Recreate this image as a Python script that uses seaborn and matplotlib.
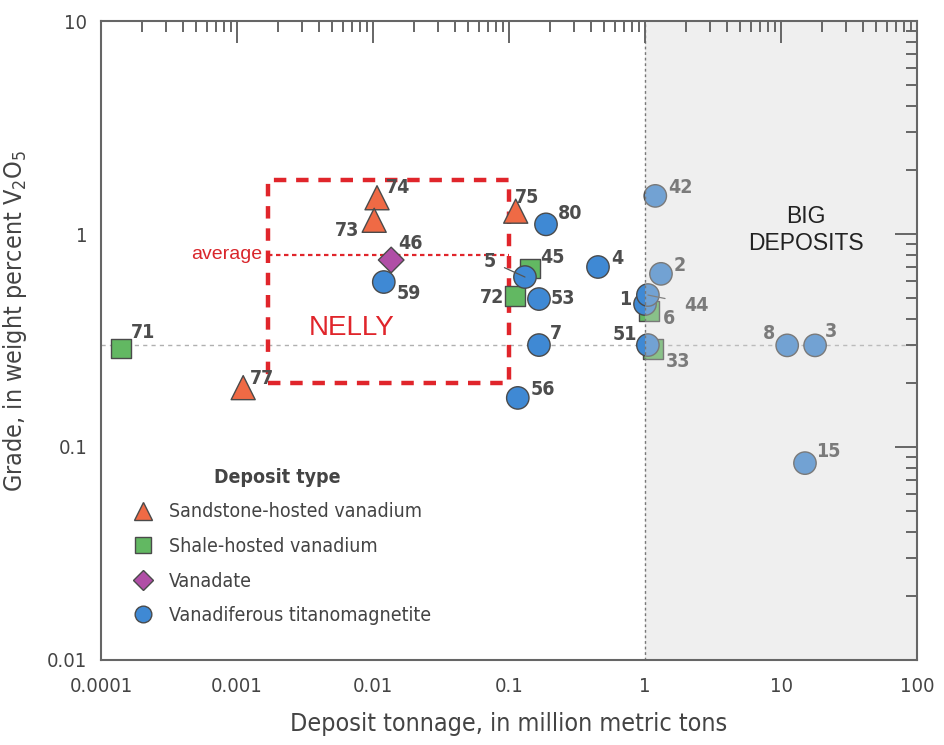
import matplotlib
matplotlib.use("Agg")
import matplotlib.pyplot as plt
from matplotlib.patches import Rectangle
import pandas as pd
import seaborn as sns

# deposit number, tonnage (million t), grade (% V2O5), type
ids_shale = ["71", "45", "72", "6", "33"]
ton_shale = [0.00014, 0.143, 0.111, 1.07, 1.15]
grade_shale = [0.29, 0.69, 0.51, 0.435, 0.289]

ids_sand = ["74", "73", "75", "77"]
ton_sand = [0.0107, 0.0102, 0.112, 0.00111]
grade_sand = [1.48, 1.16, 1.28, 0.19]

ids_vanadate = ["46"]
ton_vanadate = [0.0136]
grade_vanadate = [0.755]

ids_vtm = ["59", "80", "5", "53", "7", "56", "4", "42", "2", "1", "44", "51", "8", "3", "15"]
ton_vtm = [0.012, 0.187, 0.131, 0.166, 0.166, 0.116, 0.451, 1.19, 1.31, 1.0, 1.05, 1.05, 11.1, 17.8, 15.0]
grade_vtm = [0.595, 1.11, 0.628, 0.495, 0.301, 0.17, 0.70, 1.51, 0.65, 0.469, 0.517, 0.301, 0.30, 0.30, 0.084]

type_names = ["Sandstone-hosted vanadium", "Shale-hosted vanadium", "Vanadate",
              "Vanadiferous titanomagnetite"]

nelly_ton = (0.0017, 0.1)
nelly_grade = (0.2, 1.8)
nelly_avg = 0.8

rows = []
for ids, ton, gr, t in [(ids_shale, ton_shale, grade_shale, type_names[1]),
                        (ids_sand, ton_sand, grade_sand, type_names[0]),
                        (ids_vanadate, ton_vanadate, grade_vanadate, type_names[2]),
                        (ids_vtm, ton_vtm, grade_vtm, type_names[3])]:
    for i, x, y in zip(ids, ton, gr):
        rows.append({"id": i, "tonnage": x, "grade": y, "type": t})
df = pd.DataFrame(rows)

# label offsets in pixels (dx, dy)
offsets = {"74": (21, 10), "73": (-27, -10), "75": (11, 14), "77": (19, 9),
           "71": (22, 16), "45": (22, 11), "72": (-23, -1), "6": (20, -7),
           "33": (25, -13), "46": (19, 17), "59": (25, -11), "80": (24, 11),
           "5": (-35, 16), "53": (24, 1), "7": (17, 12), "56": (25, 8),
           "4": (19, 8), "42": (25, 8), "2": (19, 8), "44": (49, -10),
           "1": (-20, 5), "51": (-23, 11), "8": (-18, 12), "3": (16, 14),
           "15": (23, 12)}

sns.set_theme(style="white")
plain = ["Liberation Sans", "DejaVu Sans"]
plt.rcParams["font.family"] = ["DejaVu Sans"]
plt.rcParams["font.stretch"] = "condensed"

fig = plt.figure(figsize=(9.45, 7.45), dpi=100)
ax = fig.add_axes([0.1069, 0.1141, 0.8635, 0.8577])

palette = {type_names[0]: "#ef6a45", type_names[1]: "#62b862",
           type_names[2]: "#b04ea6", type_names[3]: "#3f89d4"}
markers = {type_names[0]: "^", type_names[1]: "s",
           type_names[2]: "D", type_names[3]: "o"}
sizes = {type_names[0]: 300, type_names[1]: 200,
         type_names[2]: 170, type_names[3]: 260}

sns.scatterplot(data=df, x="tonnage", y="grade", hue="type", style="type",
                hue_order=type_names, style_order=type_names,
                palette=palette, markers=markers, size="type", sizes=sizes,
                size_order=type_names,
                edgecolor="#4a4a4a", linewidth=1.0, zorder=3, ax=ax)

ax.set_xscale("log")
ax.set_yscale("log")
ax.set_xlim(0.0001, 100)
ax.set_ylim(0.01, 10)

for _, r in df.iterrows():
    dx, dy = offsets[r["id"]]
    kw = {}
    if r["id"] == "5":
        kw["arrowprops"] = dict(arrowstyle="-", color="#555555", lw=0.9,
                                shrinkA=4, shrinkB=0)
    if r["id"] == "44":
        kw["arrowprops"] = dict(arrowstyle="-", color="#555555", lw=0.9,
                                shrinkA=12, shrinkB=0)
    ax.annotate(r["id"], (r["tonnage"], r["grade"]), xytext=(dx, dy),
                textcoords="offset pixels", ha="center", va="center",
                fontsize=14, fontweight="bold", color="#4d4d4d", zorder=4, **kw)

# reference lines
ax.axhline(0.3, color="#b0b0b0", lw=1, dashes=(3, 3), zorder=1)
ax.axvline(1, color="#777777", lw=1, dashes=(2, 2), zorder=6)

# NELLY box
ax.add_patch(Rectangle((nelly_ton[0], nelly_grade[0]), nelly_ton[1] - nelly_ton[0],
                       nelly_grade[1] - nelly_grade[0], fill=False,
                       edgecolor="#e0252b", lw=3.2, ls=(0, (2.8, 2.2)), zorder=2))
ax.plot(nelly_ton, [nelly_avg, nelly_avg], color="#e0252b", lw=1.6,
        dashes=(2, 1.6), zorder=2)
ax.text(0.00154, nelly_avg, "average", ha="right", va="center", color="#d9262b",
        fontsize=14, family=plain, fontstretch="normal", zorder=4)
ax.text(0.3076, 0.5196, "NELLY", transform=ax.transAxes, ha="center", va="center",
        color="#e0252b", fontsize=20, family=plain, fontstretch="normal", zorder=4)

# big deposits shading
ax.axvspan(1, 100, facecolor="#d2d2d2", alpha=0.35, lw=0, zorder=5)
ax.text(0.864, 0.673, "BIG\nDEPOSITS", transform=ax.transAxes, ha="center",
        va="center", color="#222222", fontsize=16.5, family=plain,
        fontstretch="normal", linespacing=1.2, zorder=6)

# axes styling
for s in ax.spines.values():
    s.set_color("#666666")
    s.set_linewidth(1.5)
    s.set_zorder(10)
ax.xaxis.set_zorder(10)
ax.yaxis.set_zorder(10)
ax.tick_params(which="both", direction="in", top=True, right=True,
               color="#666666", width=1.4, labelsize=14.5, labelcolor="#444444")
ax.tick_params(which="major", length=16, pad=12)
ax.tick_params(which="minor", length=8)
ax.tick_params(axis="y", which="major", pad=10)
ax.set_xticks([0.0001, 0.001, 0.01, 0.1, 1, 10, 100])
ax.set_xticklabels(["0.0001", "0.001", "0.01", "0.1", "1", "10", "100"])
ax.set_yticks([0.01, 0.1, 1, 10])
ax.set_yticklabels(["0.01", "0.1", "1", "10"])

ax.set_xlabel("Deposit tonnage, in million metric tons", fontsize=18,
              color="#444444", labelpad=12)
ax.set_ylabel("Grade, in weight percent V$_2$O$_5$", fontsize=18,
              color="#444444")
ax.yaxis.set_label_coords(-0.088, 0.53)

sns.move_legend(ax, "upper left", bbox_to_anchor=(0.006, 0.328), frameon=False,
                title="Deposit type", fontsize=14, title_fontsize=14,
                labelspacing=0.8, handletextpad=0.35)
leg = ax.get_legend()
leg.get_title().set_fontweight("bold")
leg.get_title().set_color("#444444")
for t in leg.get_texts():
    t.set_color("#444444")
handle_sizes = [13, 11, 10.5, 12]
for h, ms in zip(leg.legend_handles, handle_sizes):
    if hasattr(h, "set_markersize"):
        h.set_markersize(ms)
    else:
        h.set_sizes([ms ** 2])
leg.set_zorder(7)

fig.savefig("out.png", dpi=100)
